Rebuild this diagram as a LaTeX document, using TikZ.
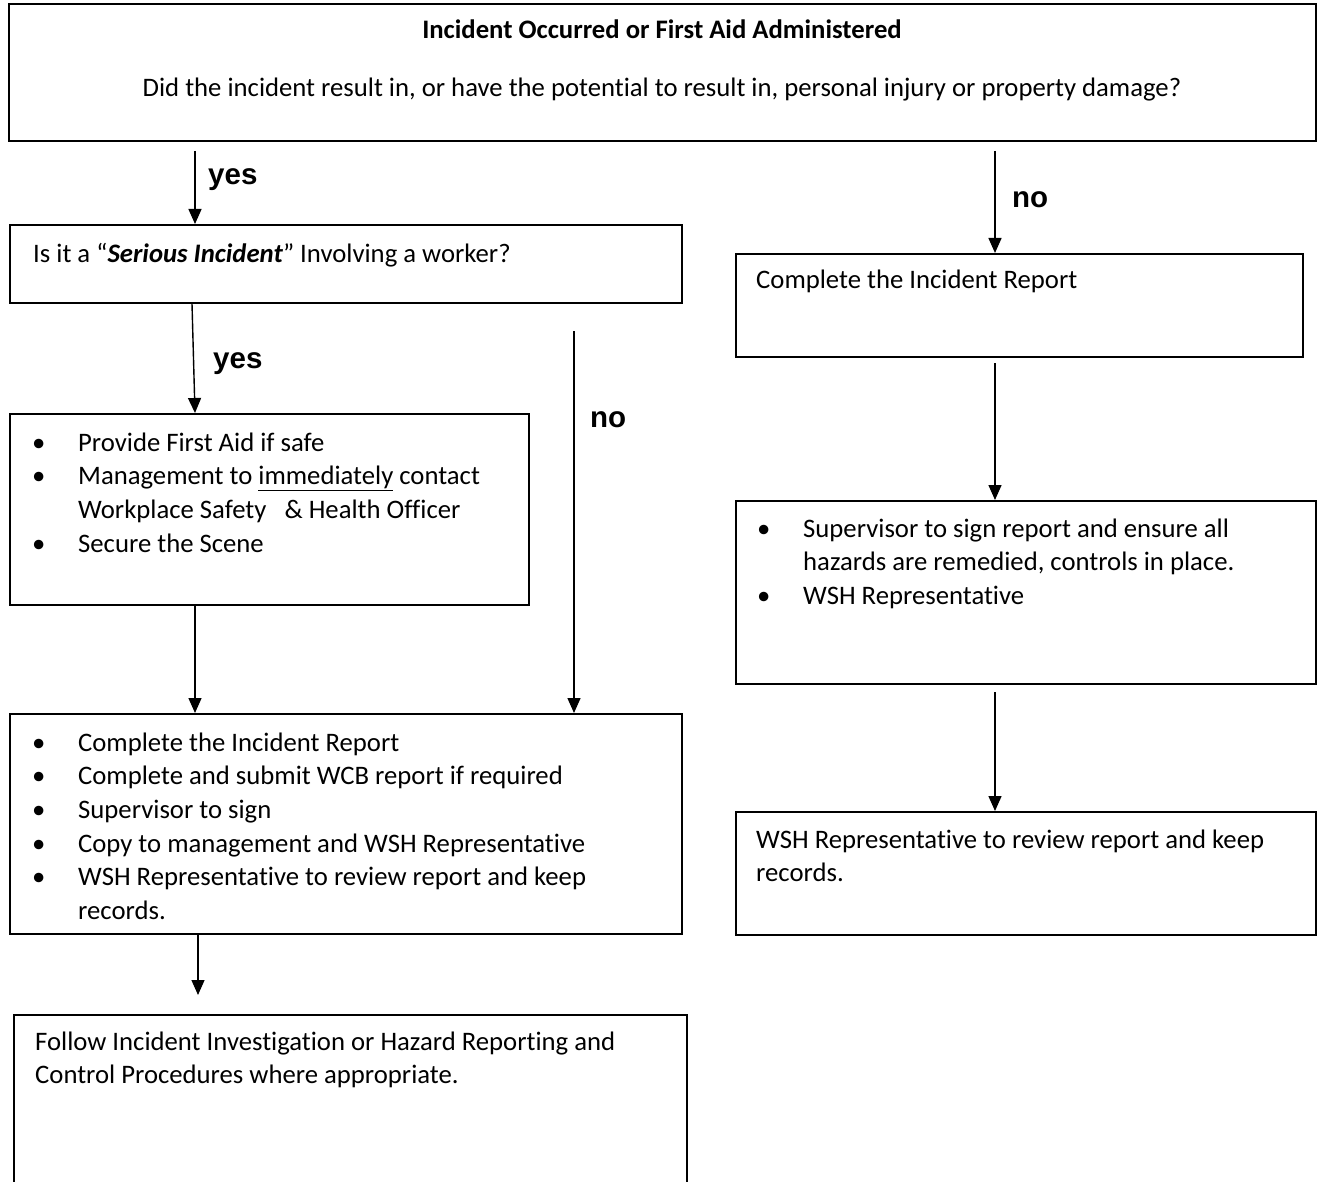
\documentclass[tikz,border=0pt]{standalone}
\usepackage{fontspec}
\setmainfont{Carlito}[Ligatures=NoCommon]
\newfontfamily\lblfont{Liberation Sans}
\usetikzlibrary{arrows.meta}
\newcommand\bul{\makebox[46pt][l]{\textbullet}}
\newcommand\ind{\hspace*{46pt}}
\begin{document}
\begin{tikzpicture}[x=1pt,y=-1pt,
  box/.style={draw, line width=1.6pt, rectangle, inner sep=0pt, anchor=north west},
  txt/.style={inner sep=0pt, anchor=base west, font=\fontsize{26.7}{33.7}\selectfont},
  lbl/.style={inner sep=0pt, anchor=base west, font=\lblfont\bfseries\fontsize{29.5}{30}\selectfont},
  arr/.style={line width=1.4pt, -{Triangle[width=13pt,length=15pt]}}]
\useasboundingbox (0,0) rectangle (1317,1182);

% boxes
\node[box, minimum width=1307pt, minimum height=137pt] (top) at (8,3) {};
\node[box, minimum width=672pt, minimum height=78pt] (q) at (9,224) {};
\node[box, minimum width=567pt, minimum height=103pt] (r1) at (735,253) {};
\node[box, minimum width=519pt, minimum height=191pt] (l2) at (9,413) {};
\node[box, minimum width=672pt, minimum height=220pt] (l3) at (9,713) {};
\node[box, minimum width=580pt, minimum height=183pt] (r2) at (735,500) {};
\node[box, minimum width=580pt, minimum height=123pt] (r3) at (735,811) {};
\node[box, minimum width=673pt, minimum height=200pt] (l4) at (13,1014) {};

% texts
\node[txt, anchor=base, font=\bfseries\fontsize{26.7}{33.7}\selectfont] (t1) at (662,39) {Incident Occurred or First Aid Administered};
\node[txt, anchor=base] (t2) at (662,97) {Did the incident result in, or have the potential to result in, personal injury or property damage?};
\node[txt] (qt) at (33,263) {Is it a “\textbf{\textit{Serious Incident}}” Involving a worker?};
\node[txt] (r1t) at (756,289) {Complete the Incident Report};
\node[txt] (l2t) at (32,451) {\begin{tabular}[t]{@{}l@{}}
\bul Provide First Aid if safe\\
\bul Management to \underline{immediately} contact\\
\ind Workplace Safety\ \ \ \& Health Officer\\
\bul Secure the Scene
\end{tabular}};
\node[txt] (l3t) at (32,751) {\begin{tabular}[t]{@{}l@{}}
\bul Complete the Incident Report\\
\bul Complete and submit WCB report if required\\
\bul Supervisor to sign\\
\bul Copy to management and WSH Representative\\
\bul WSH Representative to review report and keep\\
\ind records.
\end{tabular}};
\node[txt] (r2t) at (757,537) {\begin{tabular}[t]{@{}l@{}}
\bul Supervisor to sign report and ensure all\\
\ind hazards are remedied, controls in place.\\
\bul WSH Representative
\end{tabular}};
\node[txt] (r3t) at (756,848) {\begin{tabular}[t]{@{}l@{}}
WSH Representative to review report and keep\\
records.
\end{tabular}};
\node[txt] (l4t) at (35,1050) {\begin{tabular}[t]{@{}l@{}}
Follow Incident Investigation or Hazard Reporting and\\
Control Procedures where appropriate.
\end{tabular}};

% labels
\node[lbl] (y1) at (208,185) {yes};
\node[lbl] (n1) at (1012,208) {no};
\node[lbl] (y2) at (213,368) {yes};
\node[lbl] (n2) at (590,427) {no};

% connectors
\coordinate (xa) at (195,0);
\coordinate (xc) at (192,0);
\coordinate (a1) at (195,151);
\coordinate (a2) at (995,151);
\coordinate (a4) at (574,331);
\coordinate (a6) at (198,995);
\coordinate (a7) at (995,363);
\coordinate (a8) at (995,692);
\draw[arr] (a1) -- (q.north -| a1);
\draw[arr] (a2) -- (r1.north -| a2);
\draw[arr] (q.south -| xc) -- (l2.north -| xa);
\draw[arr] (a4) -- (l3.north -| a4);
\draw[arr] (l2.south -| xa) -- (l3.north -| xa);
\draw[arr] (l3.south -| a6) -- (a6);
\draw[arr] (a7) -- (r2.north -| a7);
\draw[arr] (a8) -- (r3.north -| a8);
\end{tikzpicture}
\end{document}
